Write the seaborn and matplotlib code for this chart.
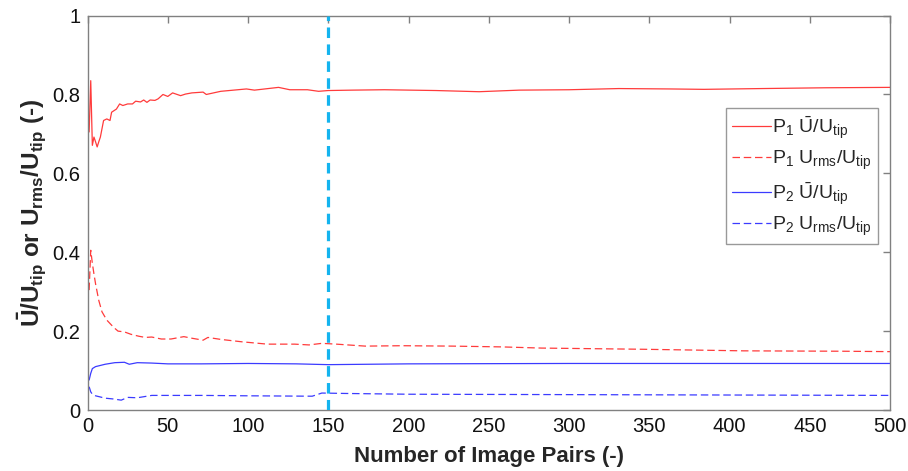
import matplotlib
matplotlib.use("Agg")
import matplotlib.pyplot as plt
import seaborn as sns
import numpy as np
from matplotlib.ticker import FormatStrFormatter

# Convergence of mean and RMS velocity with the number of PIV image pairs
p1_mean_x = [1, 2, 3, 4, 5, 6, 7, 8, 10, 12, 14, 15, 18, 20, 22, 25, 28, 30, 33, 35,
             37, 39, 42, 44, 47, 50, 53, 58, 61, 65, 72, 74, 83, 99, 104, 119, 126,
             137, 144, 150, 165, 185, 217, 244, 269, 300, 331, 363, 384, 420, 460, 500]
p1_mean_y = [0.705, 0.835, 0.671, 0.692, 0.680, 0.667, 0.680, 0.692, 0.734, 0.738,
             0.734, 0.755, 0.763, 0.776, 0.772, 0.776, 0.776, 0.783, 0.781, 0.786,
             0.780, 0.786, 0.785, 0.789, 0.800, 0.795, 0.804, 0.797, 0.801, 0.804,
             0.806, 0.800, 0.808, 0.814, 0.811, 0.818, 0.812, 0.812, 0.808, 0.810,
             0.811, 0.812, 0.810, 0.807, 0.811, 0.812, 0.815, 0.814, 0.813, 0.815,
             0.817, 0.818]

p1_rms_x = [1, 2, 3, 4, 5, 7, 9, 12, 15, 17, 19, 23, 27, 32, 36, 40, 46, 52, 60, 65,
            72, 75, 83, 96, 112, 129, 138, 146, 155, 173, 196, 227, 258, 283, 346,
            409, 471, 500]
p1_rms_y = [0.304, 0.405, 0.372, 0.345, 0.320, 0.278, 0.249, 0.228, 0.215, 0.207,
            0.200, 0.198, 0.192, 0.187, 0.184, 0.185, 0.180, 0.180, 0.186, 0.182,
            0.177, 0.184, 0.179, 0.173, 0.167, 0.167, 0.165, 0.169, 0.167, 0.162,
            0.163, 0.162, 0.160, 0.157, 0.154, 0.150, 0.149, 0.148]

p2_mean_x = [1, 2, 3, 5, 7, 11, 17, 23, 26, 31, 40, 50, 71, 100, 130, 150, 200, 300,
             400, 500]
p2_mean_y = [0.076, 0.093, 0.105, 0.110, 0.112, 0.116, 0.120, 0.121, 0.116, 0.120,
             0.119, 0.117, 0.117, 0.118, 0.117, 0.115, 0.117, 0.118, 0.118, 0.118]

p2_rms_x = [1, 2, 3, 5, 7, 11, 16, 21, 25, 31, 40, 50, 71, 100, 140, 146, 160, 200,
            300, 400, 500]
p2_rms_y = [0.059, 0.046, 0.040, 0.036, 0.034, 0.030, 0.028, 0.025, 0.032, 0.031,
            0.037, 0.037, 0.037, 0.036, 0.035, 0.043, 0.042, 0.040, 0.039, 0.038,
            0.037]

chosen_pairs = 150

x_ticks = list(range(0, 501, 50))
y_ticks = [0, 0.2, 0.4, 0.6, 0.8, 1.0]

sns.set_style("white")
plt.rcParams["font.family"] = ["Liberation Sans", "DejaVu Sans"]
plt.rcParams["mathtext.fontset"] = "custom"
plt.rcParams["mathtext.rm"] = "Liberation Sans"
plt.rcParams["mathtext.it"] = "Liberation Sans"
plt.rcParams["mathtext.bf"] = "Liberation Sans:bold"

RED = "#ff3b3b"
BLUE = "#3b3bff"
SKY = "#14b4ef"
GREY = "#808080"
dash = (0, (6, 3))

fig = plt.figure(figsize=(9.08, 4.71), dpi=100)
ax = fig.add_axes([0.0964, 0.1295, 0.8838, 0.8374])

sns.lineplot(x=p1_mean_x, y=p1_mean_y, ax=ax, color=RED, lw=0.9,
             label=r"P$_1$ $\bar{\mathrm{U}}$/U$_{\mathrm{tip}}$")
sns.lineplot(x=p1_rms_x, y=p1_rms_y, ax=ax, color=RED, lw=0.9, linestyle=dash,
             label=r"P$_1$ U$_{\mathrm{rms}}$/U$_{\mathrm{tip}}$")
sns.lineplot(x=p2_mean_x, y=p2_mean_y, ax=ax, color=BLUE, lw=0.9,
             label=r"P$_2$ $\bar{\mathrm{U}}$/U$_{\mathrm{tip}}$")
sns.lineplot(x=p2_rms_x, y=p2_rms_y, ax=ax, color=BLUE, lw=0.9, linestyle=dash,
             label=r"P$_2$ U$_{\mathrm{rms}}$/U$_{\mathrm{tip}}$")

ax.axvline(chosen_pairs, color=SKY, lw=2.3, linestyle=(0, (3.3, 2.0)), zorder=3)

ax.set_xlim(0, 500)
ax.set_ylim(0, 1)
ax.set_xticks(x_ticks)
ax.set_yticks(y_ticks)
ax.yaxis.set_major_formatter(FormatStrFormatter("%g"))

for side in ["left", "right", "top", "bottom"]:
    ax.spines[side].set_visible(True)
    ax.spines[side].set_color(GREY)
    ax.spines[side].set_linewidth(1.0)

ax.tick_params(direction="in", length=5, width=1.0, color=GREY,
               top=True, right=True, labelsize=14.5, labelcolor="#111111", pad=5)

ax.set_xlabel("Number of Image Pairs (-)", fontsize=16, fontweight="bold", labelpad=7)
ax.set_ylabel(r"$\mathbf{\bar{U}}$/U$_{\mathbf{tip}}$ or U$_{\mathbf{rms}}$/U$_{\mathbf{tip}}$ (-)",
              fontsize=17.5, fontweight="bold", labelpad=3)

leg = ax.legend(loc="upper right", bbox_to_anchor=(0.985, 0.766), borderaxespad=0,
                fontsize=14, frameon=True, fancybox=False, handlelength=2.0,
                handletextpad=0.1, labelspacing=0.42, borderpad=0.3)
leg.get_frame().set_edgecolor(GREY)
leg.get_frame().set_linewidth(1.0)

fig.savefig("out.png", dpi=100)
